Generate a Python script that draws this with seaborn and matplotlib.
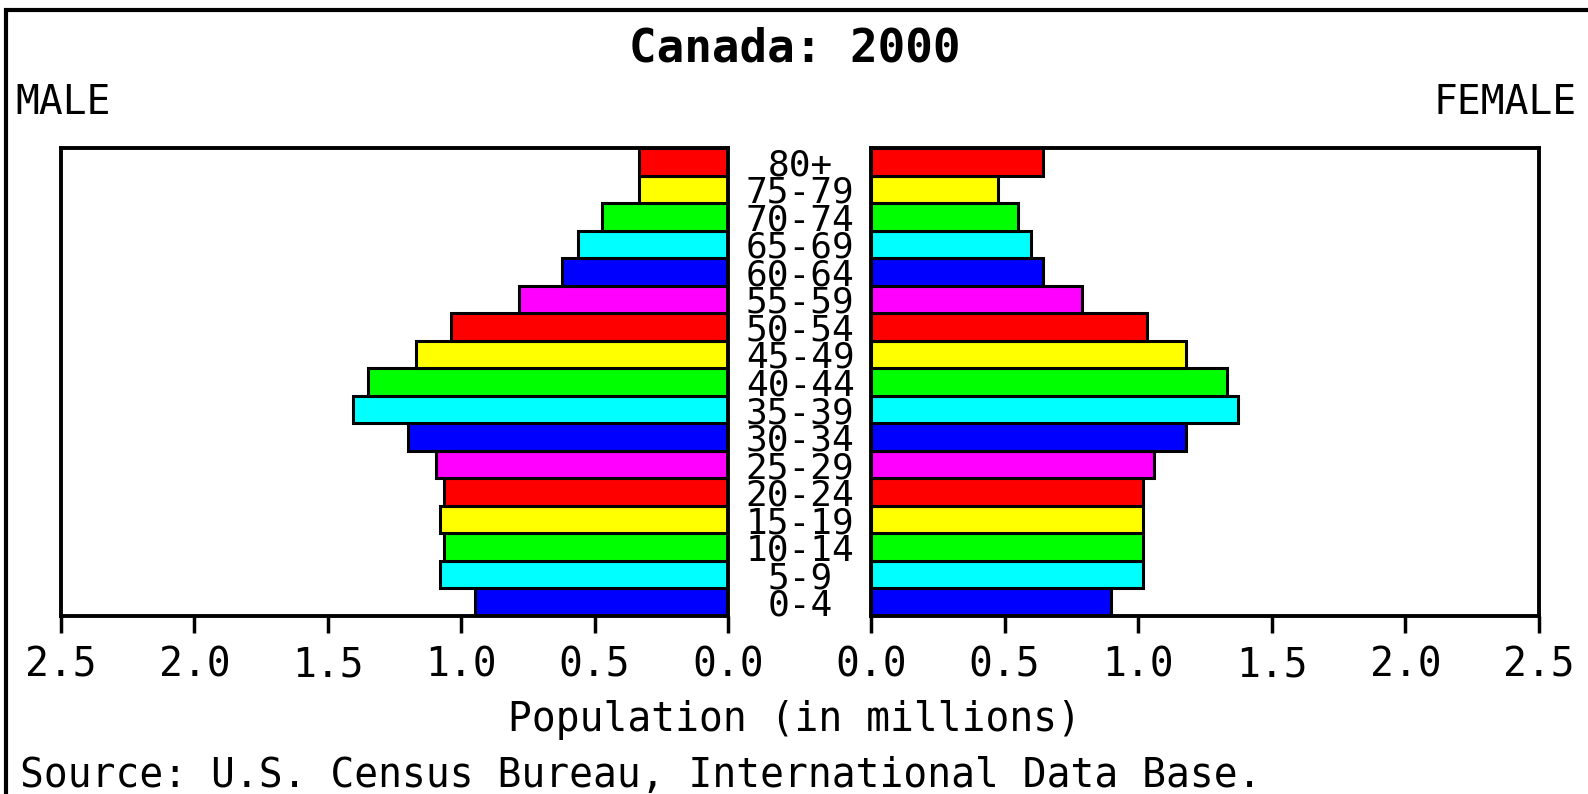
import pandas as pd
import matplotlib
matplotlib.use("Agg")
import matplotlib.pyplot as plt
import matplotlib.patches as mpatches
import seaborn as sns

# population by age group, millions
ages = ["0-4", "5-9", "10-14", "15-19", "20-24", "25-29", "30-34", "35-39",
        "40-44", "45-49", "50-54", "55-59", "60-64", "65-69", "70-74",
        "75-79", "80+"]
male = [0.947, 1.080, 1.066, 1.080, 1.064, 1.093, 1.198, 1.404,
        1.348, 1.170, 1.039, 0.782, 0.622, 0.563, 0.473, 0.332, 0.332]
female = [0.897, 1.019, 1.017, 1.017, 1.017, 1.061, 1.180, 1.373,
          1.332, 1.180, 1.033, 0.790, 0.645, 0.597, 0.551, 0.475, 0.645]
ticks = [0.0, 0.5, 1.0, 1.5, 2.0, 2.5]
cycle = ["#0000ff", "#00ffff", "#00ff00", "#ffff00", "#ff0000", "#ff00ff"]

df = pd.DataFrame({"age": ages, "male": male, "female": female})
colors = {a: cycle[i % len(cycle)] for i, a in enumerate(ages)}
order = ages[::-1]

plt.rcParams["font.family"] = ["DejaVu Sans Mono"]

W, H = 1588, 794
fig = plt.figure(figsize=(W / 100, H / 100), dpi=100)
fig.patch.set_facecolor("white")

def fx(px):
    return px / W

def fy(py):
    return 1 - py / H

bottom, top = fy(616), fy(148)
ax_l = fig.add_axes([fx(61), bottom, fx(728) - fx(61), top - bottom])
ax_r = fig.add_axes([fx(871), bottom, fx(1539) - fx(871), top - bottom])

for ax, col in [(ax_l, "male"), (ax_r, "female")]:
    sns.barplot(data=df, x=col, y="age", hue="age", order=order,
                palette=colors, saturation=1, legend=False, width=1.0,
                edgecolor="black", linewidth=2.2, ax=ax)
    ax.set_xlabel("")
    ax.set_ylabel("")
    ax.set_xticks(ticks)
    ax.set_xticklabels([f"{t:.1f}" for t in ticks])
    ax.tick_params(axis="x", direction="out", length=12, width=2.5,
                   pad=9, labelsize=28.5)
    for s in ax.spines.values():
        s.set_linewidth(2.8)
        s.set_color("black")

ax_l.set_xlim(2.5, 0)
ax_r.set_xlim(0, 2.5)
ax_l.set_yticks([])
ax_r.tick_params(axis="y", length=0, pad=51, labelsize=26)
for lab in ax_r.get_yticklabels():
    lab.set_horizontalalignment("center")

fig.text(fx(795), fy(61), "Canada: 2000", ha="center", va="baseline",
         fontsize=33, fontweight="bold")
fig.text(fx(15), fy(114), "MALE", ha="left", va="baseline", fontsize=28.5)
fig.text(fx(1577), fy(114), "FEMALE", ha="right", va="baseline", fontsize=28.5)
fig.text(fx(795), fy(731), "Population (in millions)", ha="center",
         va="baseline", fontsize=28.5)
fig.text(fx(20), fy(787), "Source: U.S. Census Bureau, International Data Base.",
         ha="left", va="baseline", fontsize=28.5)

border = mpatches.Rectangle((fx(6), -0.1), 2, fy(10) + 0.1,
                            transform=fig.transFigure, fill=False,
                            edgecolor="black", linewidth=3, clip_on=False)
fig.patches.append(border)

fig.savefig("out.png", dpi=100)
